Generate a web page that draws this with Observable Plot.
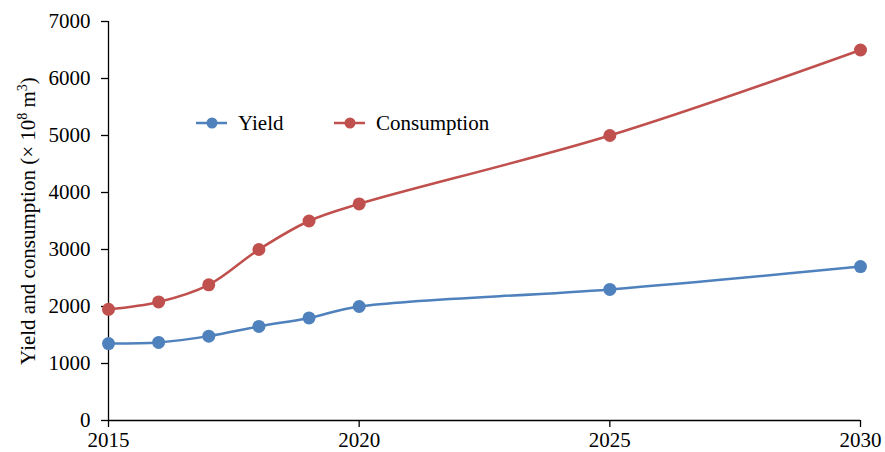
<!DOCTYPE html>
<html><head><meta charset="utf-8">
<script src="https://cdn.jsdelivr.net/npm/d3@7"></script>
<script src="https://cdn.jsdelivr.net/npm/@observablehq/plot@0.6"></script>
<style>body{margin:0;background:#fff;} #chart{position:relative;width:885px;height:452px;}
#chart svg, #chart svg text{font-family:'Liberation Serif','Times New Roman',serif !important;}
</style>
</head><body><div id="chart"></div>
<script>
const years = [2015, 2016, 2017, 2018, 2019, 2020, 2025, 2030];
const yieldVals = [1350, 1370, 1480, 1650, 1800, 2000, 2300, 2700];
const consumptionVals = [1950, 2080, 2380, 3000, 3500, 3800, 5000, 6500];
const seriesNames = ["Yield", "Consumption"];
const seriesColors = ["#4F81BD", "#C0504D"];
const xTicks = [2015, 2020, 2025, 2030];
const yTicks = [0, 1000, 2000, 3000, 4000, 5000, 6000, 7000];

const data = [];
years.forEach((y, i) => {
  data.push({year: y, value: yieldVals[i], series: seriesNames[0]});
  data.push({year: y, value: consumptionVals[i], series: seriesNames[1]});
});

const plot = Plot.plot({
  width: 885, height: 452,
  marginLeft: 108, marginRight: 25, marginTop: 21, marginBottom: 32,
  style: {fontFamily: "'Liberation Serif', 'Times New Roman', serif", fontSize: "21px", color: "#000", background: "#fff"},
  x: {domain: [2015, 2030], label: null},
  y: {domain: [0, 7000], label: null},
  color: {domain: seriesNames, range: seriesColors},
  marks: [
    Plot.axisX({ticks: xTicks, tickFormat: "d", tickSize: 7, tickPadding: 5, fontSize: 21, label: null}),
    Plot.axisY({ticks: yTicks, tickFormat: "d", tickSize: 7, tickPadding: 11, fontSize: 21, label: null}),
    Plot.ruleX([2015], {stroke: "#000", strokeWidth: 1.3}),
    Plot.ruleY([0], {stroke: "#000", strokeWidth: 1.3}),
    Plot.line(data, {x: "year", y: "value", z: "series", stroke: "series", strokeWidth: 2.5, curve: "catmull-rom"}),
    Plot.dot(data, {x: "year", y: "value", fill: "series", r: 6.5})
  ]
});
document.getElementById("chart").appendChild(plot);

const svg = d3.select(plot);
svg.selectAll('g[aria-label$="tick label"]').attr("font-size", 21).style("font-size", "21px");
svg.selectAll('g[aria-label$="tick"]').attr("stroke", "#000").attr("stroke-width", 1.3);

const serif = "'Liberation Serif', 'Times New Roman', serif";
// y-axis title with superscripts
const t = svg.append("text")
  .attr("transform", "translate(35,221) rotate(-90)")
  .attr("text-anchor", "middle")
  .style("font-family", serif)
  .style("font-size", "21px")
  .attr("fill", "#000");
t.append("tspan").text("Yield and consumption (\u00D7 10");
t.append("tspan").attr("dy", -8).style("font-size", "14px").text("8");
t.append("tspan").attr("dy", 8).text(" m");
t.append("tspan").attr("dy", -8).style("font-size", "14px").text("3");
t.append("tspan").attr("dy", 8).text(")");

// legend
const legendX = [196, 334];
seriesNames.forEach((name, i) => {
  const g = svg.append("g").attr("transform", `translate(${legendX[i]},123)`);
  g.append("line").attr("x1", 0).attr("x2", 31).attr("y1", 0).attr("y2", 0)
    .attr("stroke", seriesColors[i]).attr("stroke-width", 2.5);
  g.append("circle").attr("cx", 16).attr("cy", 0).attr("r", 5.5).attr("fill", seriesColors[i]);
  g.append("text").attr("x", 42).attr("y", 7).attr("text-anchor", "start")
    .style("font-family", serif)
    .style("font-size", "21px").attr("fill", "#000").text(name);
});
</script>
</body></html>
